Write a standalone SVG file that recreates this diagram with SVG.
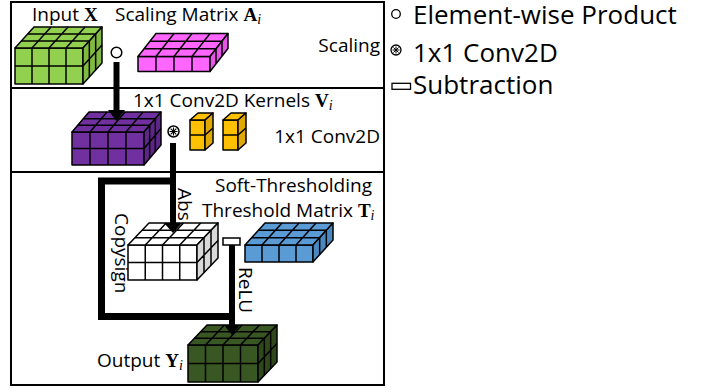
<svg xmlns="http://www.w3.org/2000/svg" width="707" height="392" viewBox="0 0 707 392">
<style>
text{font-family:"Open Sans","Liberation Sans",sans-serif;font-size:19px;fill:#000}
.leg{font-size:26px}
.m{font-family:"Liberation Serif",serif;font-weight:bold}
.s{font-family:"Liberation Serif",serif;font-style:italic;font-size:14px}
.f{stroke:#000;stroke-width:1.5;stroke-linejoin:round}
.gr{fill:none;stroke:#000;stroke-width:1.5}
.panel{fill:none;stroke:#000;stroke-width:2}
.bar{fill:none;stroke:#000;stroke-width:6}
.sym{fill:#fff;stroke:#000;stroke-width:1.5}
</style>
<rect width="707" height="392" fill="#fff"/>
<g id="panels">
<rect class="panel" x="11" y="2" width="373" height="86"/>
<rect class="panel" x="11" y="88" width="373" height="84"/>
<rect class="panel" x="11" y="172" width="373" height="213"/>
</g>
<g id="input-x">
<rect class="f" x="15" y="48" width="68" height="36" fill="#92d050"/>
<polygon class="f" points="15,48 83,48 102,27 34,27" fill="#92d050"/>
<polygon class="f" points="83,48 102,27 102,63 83,84" fill="#80ba40"/>
<path class="gr" d="M32,48V84M49,48V84M66,48V84M15,66H83M32,48L51,27M49,48L68,27M66,48L85,27M21.33,41H89.33M27.67,34H95.67M89.33,41V77M95.67,34V70M83,66L102,45"/>
<text x="32" y="21">Input <tspan class="m">X</tspan></text>
</g>
<g id="scaling-matrix">
<rect class="f" x="138" y="56.5" width="72" height="15" fill="#ff66ff"/>
<polygon class="f" points="138,56.5 210,56.5 228,33.5 156,33.5" fill="#ff66ff"/>
<polygon class="f" points="210,56.5 228,33.5 228,48.5 210,71.5" fill="#e854e8"/>
<path class="gr" d="M156,56.5V71.5M174,56.5V71.5M192,56.5V71.5M156,56.5L174,33.5M174,56.5L192,33.5M192,56.5L210,33.5M144,48.83H216M150,41.17H222M216,48.83V63.83M222,41.17V56.17"/>
<text x="115" y="21">Scaling Matrix <tspan class="m">A</tspan><tspan class="s" dy="3">i</tspan></text>
<text x="380" y="52" text-anchor="end">Scaling</text>
</g>
<g id="elementwise-op">
<circle class="sym" cx="116.5" cy="52.5" r="5.3"/>
</g>
<g id="scaled">
<rect class="f" x="72" y="132" width="72" height="33" fill="#7030a0"/>
<polygon class="f" points="72,132 144,132 161,112 89,112" fill="#7030a0"/>
<polygon class="f" points="144,132 161,112 161,145 144,165" fill="#5f2689"/>
<path class="gr" d="M90,132V165M108,132V165M126,132V165M72,148.5H144M90,132L107,112M108,132L125,112M126,132L143,112M77.67,125.33H149.67M83.33,118.67H155.33M149.67,125.33V158.33M155.33,118.67V151.67M144,148.5L161,128.5"/>
</g>
<g id="conv-op">
<circle class="sym" cx="173.5" cy="131.5" r="5.5"/>
<path d="M173.5,127.5V135.5M169.5,131.5H177.5M170.7,128.7L176.3,134.3M170.7,134.3L176.3,128.7" stroke="#000" stroke-width="1.1"/>
</g>
<g id="kernels">
<rect class="f" x="190" y="120" width="15" height="30" fill="#ffc000"/>
<polygon class="f" points="190,120 205,120 213,113 198,113" fill="#ffc000"/>
<polygon class="f" points="205,120 213,113 213,143 205,150" fill="#e0a800"/>
<path class="gr" d="M190,135H205M205,135L213,128"/>
<rect class="f" x="223" y="120" width="15" height="30" fill="#ffc000"/>
<polygon class="f" points="223,120 238,120 246,113 231,113" fill="#ffc000"/>
<polygon class="f" points="238,120 246,113 246,143 238,150" fill="#e0a800"/>
<path class="gr" d="M223,135H238M238,135L246,128"/>
<text x="133" y="107">1x1 Conv2D Kernels <tspan class="m">V</tspan><tspan class="s" dy="3">i</tspan></text>
<text x="380" y="143" text-anchor="end">1x1 Conv2D</text>
</g>
<g id="abs-value">
<rect class="f" x="128" y="245" width="69" height="35" fill="#fff"/>
<polygon class="f" points="128,245 197,245 218,223 149,223" fill="#fff"/>
<polygon class="f" points="197,245 218,223 218,258 197,280" fill="#d9d9d9"/>
<path class="gr" d="M145.25,245V280M162.5,245V280M179.75,245V280M128,262.5H197M145.25,245L166.25,223M162.5,245L183.5,223M179.75,245L200.75,223M135,237.67H204M142,230.33H211M204,237.67V272.67M211,230.33V265.33M197,262.5L218,240.5"/>
</g>
<g id="threshold-matrix">
<rect class="f" x="245" y="245" width="68" height="17" fill="#5b9bd5"/>
<polygon class="f" points="245,245 313,245 333,223 265,223" fill="#5b9bd5"/>
<polygon class="f" points="313,245 333,223 333,240 313,262" fill="#4a88c2"/>
<path class="gr" d="M262,245V262M279,245V262M296,245V262M262,245L282,223M279,245L299,223M296,245L316,223M251.67,237.67H319.67M258.33,230.33H326.33M319.67,237.67V254.67M326.33,230.33V247.33"/>
<text x="215" y="192">Soft-Thresholding</text>
<text x="202" y="217">Threshold Matrix <tspan class="m">T</tspan><tspan class="s" dy="3">i</tspan></text>
</g>
<g id="subtract-op">
<rect class="sym" x="223" y="238" width="17" height="7"/>
</g>
<g id="output-y">
<rect class="f" x="188" y="345" width="70" height="37" fill="#385723"/>
<polygon class="f" points="188,345 258,345 277,325 207,325" fill="#385723"/>
<polygon class="f" points="258,345 277,325 277,362 258,382" fill="#2e481c"/>
<path class="gr" d="M205.5,345V382M223,345V382M240.5,345V382M188,363.5H258M205.5,345L224.5,325M223,345L242,325M240.5,345L259.5,325M194.33,338.33H264.33M200.67,331.67H270.67M264.33,338.33V375.33M270.67,331.67V368.67M258,363.5L277,343.5"/>
<text x="97" y="367">Output <tspan class="m">Y</tspan><tspan class="s" dy="3">i</tspan></text>
</g>
<g id="connectors">
<path class="bar" d="M116.5,62V111"/>
<polygon points="108,110 125,110 116.5,121"/>
<path class="bar" d="M173,143V224"/>
<polygon points="164,223 182,223 173,233"/>
<path fill="none" stroke="#000" stroke-width="7" stroke-linejoin="miter" d="M173,181H101.5V316.5H235"/>
<path class="bar" d="M232,245V326"/>
<polygon points="224,325 240,325 232,335"/>
<text transform="translate(178,188) rotate(90)">Abs</text>
<text transform="translate(115,213) rotate(90)">Copysign</text>
<text transform="translate(239,267) rotate(90)">ReLU</text>
</g>
<g id="legend">
<circle cx="396" cy="14" r="4.3" fill="#fff" stroke="#000" stroke-width="1.3"/>
<text class="leg" x="413" y="24">Element-wise Product</text>
<circle cx="396" cy="50" r="5" fill="#fff" stroke="#000" stroke-width="1.3"/>
<path d="M396,46.5V53.5M392.5,50H399.5M393.5,47.5L398.5,52.5M393.5,52.5L398.5,47.5" stroke="#000" stroke-width="1"/>
<text class="leg" x="413" y="62">1x1 Conv2D</text>
<rect x="392" y="83.3" width="18.5" height="6" fill="#fff" stroke="#000" stroke-width="1.3"/>
<text class="leg" x="413" y="94">Subtraction</text>
</g>
</svg>
